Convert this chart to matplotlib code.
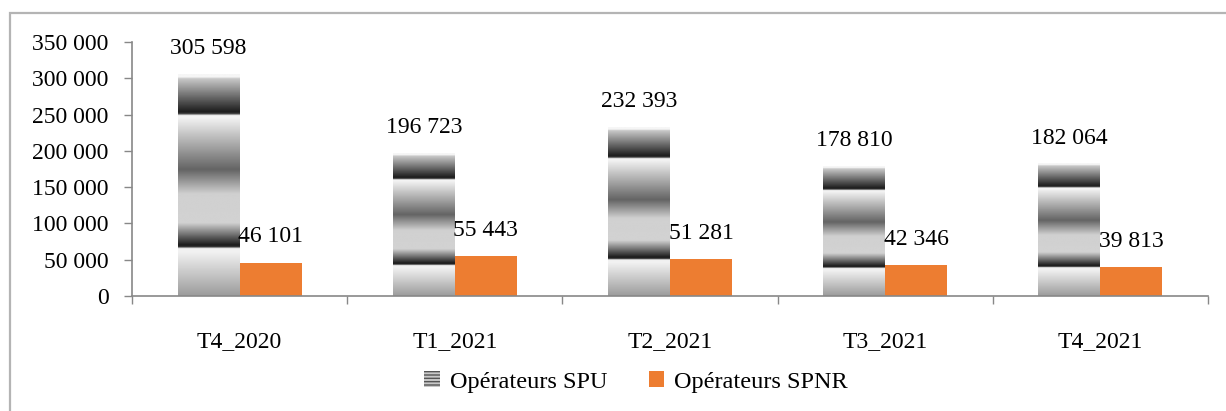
import numpy as np
import matplotlib
matplotlib.use("Agg")
import matplotlib.pyplot as plt
from matplotlib.patches import Patch, Rectangle
from matplotlib.ticker import FuncFormatter, MultipleLocator, FixedLocator

categories = ["T4_2020", "T1_2021", "T2_2021", "T3_2021", "T4_2021"]
spu = [305598, 196723, 232393, 178810, 182064]
spnr = [46101, 55443, 51281, 42346, 39813]
series_names = ["Opérateurs SPU", "Opérateurs SPNR"]

plt.rcParams['font.family'] = ['Liberation Serif', 'DejaVu Serif']
FS = 17
ORANGE = "#ED7D31"
AXC = "#888888"

fig = plt.figure(figsize=(12.26, 4.11), dpi=100)
ax = fig.add_axes([132/1226, 1-296/411, (1208-132)/1226, (296-42)/411])

# border around chart area
fig.patches.append(Rectangle((10/1226, -0.1), 1.2, 1-13/411+0.1, transform=fig.transFigure,
                             fill=False, edgecolor="#b4b4b4", lw=1.6, zorder=0))

x = np.arange(len(categories))
w = 0.288

# texture for SPU bars (top -> bottom), style only
fr = [0.0, 0.012, 0.02, 0.17, 0.178, 0.186, 0.2, 0.43, 0.54, 0.67, 0.77, 0.778, 0.786, 0.8, 1.0]
gv = [246, 246, 200, 28, 60, 245, 240, 100, 208, 210, 28, 40, 240, 242, 155]
pos = np.linspace(0, 1, 600)
tex = np.interp(pos, fr, gv) / 255.0
tex_img = np.repeat(tex[:, None], 2, axis=1)

bars1 = ax.bar(x - w/2, spu, width=w, color="none", edgecolor="none", label=series_names[0])
bars2 = ax.bar(x + w/2, spnr, width=w, color=ORANGE, edgecolor="none", label=series_names[1])

for b in bars1:
    x0 = b.get_x(); x1 = x0 + b.get_width(); h = b.get_height()
    ax.imshow(tex_img, cmap="gray", vmin=0, vmax=1, extent=(x0, x1, 0, h),
              origin="upper", aspect="auto", interpolation="bilinear", zorder=2)

fmt = lambda v: f"{int(round(v)):,}".replace(",", " ")
for b, v in zip(bars1, spu):
    ax.annotate(fmt(v), (b.get_x() + b.get_width()/2, v), xytext=(0, 18.5),
                textcoords="offset points", ha="center", va="center", fontsize=FS, zorder=5)
for b, v in zip(bars2, spnr):
    ax.annotate(fmt(v), (b.get_x() + b.get_width()/2, v), xytext=(0, 18.5),
                textcoords="offset points", ha="center", va="center", fontsize=FS, zorder=5)

ax.set_xlim(-0.5, len(categories) - 0.5)
ax.set_ylim(0, 350000)
ax.yaxis.set_major_locator(MultipleLocator(50000))
ax.yaxis.set_major_formatter(FuncFormatter(lambda v, p: fmt(v)))

ax.xaxis.set_major_locator(FixedLocator(np.arange(-0.5, len(categories), 1.0)))
ax.xaxis.set_minor_locator(FixedLocator(x))
ax.xaxis.set_major_formatter(FuncFormatter(lambda v, p: ""))
ax.set_xticklabels(categories, minor=True)
ax.tick_params(axis="x", which="major", direction="out", length=6, width=1, color=AXC)
ax.tick_params(axis="x", which="minor", length=0, labelsize=FS, pad=25)
ax.tick_params(axis="y", direction="out", length=6, width=1, color=AXC, labelsize=FS, pad=11)

for s in ["top", "right"]:
    ax.spines[s].set_visible(False)
for s in ["left", "bottom"]:
    ax.spines[s].set_color(AXC)
    ax.spines[s].set_linewidth(1.2)

handles = [Patch(facecolor="#c8c8c8", edgecolor="#555555", hatch="-----", lw=0),
           Patch(facecolor=ORANGE, edgecolor="none")]
fig.legend(handles, series_names, loc="center", bbox_to_anchor=(636/1226, 1-382/411),
           ncol=2, frameon=False, fontsize=FS + 0.5, handlelength=0.65, handleheight=0.65,
           handletextpad=0.4, columnspacing=1.7)

fig.savefig("out.png", dpi=100)
